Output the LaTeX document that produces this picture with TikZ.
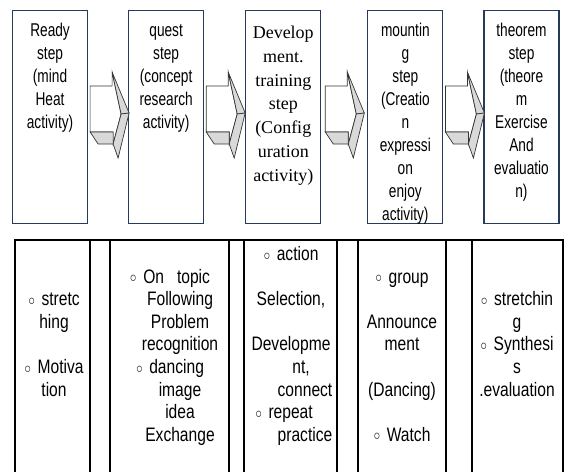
\documentclass[tikz,border=0pt]{standalone}
\usepackage{fontspec}
\newfontfamily\narrowsans{Liberation Sans}[FakeStretch=0.74]
\newfontfamily\cellsans{Liberation Sans}[FakeStretch=0.8]
\newfontfamily\plainserif{Liberation Serif}
\usetikzlibrary{positioning}
\definecolor{boxline}{RGB}{38,58,92}
\definecolor{arrowgray}{RGB}{217,217,217}
\newcommand{\stepfont}{\narrowsans\fontsize{18.5}{23}\selectfont}
\newcommand{\serifstep}{\plainserif\fontsize{18}{23.8}\selectfont}
\newcommand{\cellfont}{\cellsans\fontsize{19.5}{22.6}\selectfont}
\newcommand{\ringmark}{\raisebox{0.5pt}{\fontsize{14}{14}\selectfont ○}}

\begin{document}
\begin{tikzpicture}[x=1pt, y=-1pt,
  stepbox/.style={draw=boxline, line width=1.1pt, minimum width=75pt, text width=71pt, align=center, inner sep=2pt, text height=24pt, text depth=185pt, font=\stepfont},
  celltext/.style={text width=100pt, align=center, inner sep=0pt, anchor=base, font=\cellfont},
  tableline/.style={line width=1.1pt},
  blockarrow/.pic={
    \draw[fill=white] (0,0) -- (22,0) -- (22,-14) -- (31,28) -- (23,58) -- (23,46) -- (0,46) -- cycle;
    \draw[fill=arrowgray] (22,-14) -- (39,27) -- (31,28) -- cycle;
    \draw[fill=arrowgray] (31,28) -- (39,27) -- (28,72) -- (23,58) -- cycle;
    \draw[fill=arrowgray] (0,46) -- (8,58) -- (23,58) -- (23,46) -- cycle;
  }]
  \useasboundingbox (0,0) rectangle (565,472);
  % step boxes
  \node[stepbox, anchor=north west] (ready) at (12,10) {Ready\\step\\(mind\\Heat\\activity)};
  \node[stepbox, right=40pt of ready] (quest) {quest\\step\\(concept\\research\\activity)};
  \node[stepbox, right=41pt of quest, font=\serifstep, text height=26pt, text depth=183pt] (develop) {Develop\\ment.\\training\\step\\(Config\\uration\\activity)};
  \node[stepbox, right=46pt of develop] (mount) {mountin\\g\\step\\(Creatio\\n\\expressi\\on\\enjoy\\activity)};
  \node[stepbox, right=40pt of mount] (theorem) {theorem\\step\\(theore\\m\\Exercise\\And\\evaluatio\\n)};
  % block arrows between the steps
  \pic[draw=black!80, line width=0.7pt] at ([xshift=2pt, yshift=-76pt]ready.north east) {blockarrow};
  \pic[draw=black!80, line width=0.7pt] at ([xshift=2pt, yshift=-76pt]quest.north east) {blockarrow};
  \pic[draw=black!80, line width=0.7pt] at ([xshift=4pt, yshift=-76pt]develop.north east) {blockarrow};
  \pic[draw=black!80, line width=0.7pt] at ([xshift=2pt, yshift=-76pt]mount.north east) {blockarrow};
  % activity table
  \draw[tableline] (15,472) |- (563,240) -- (563,472)
    (90,240) -- (90,472) (110,240) -- (110,472)
    (229,240) -- (229,472) (244,240) -- (244,472)
    (337,240) -- (337,472) (358,240) -- (358,472)
    (446,240) -- (446,472) (472,240) -- (472,472);
  \node[celltext] (readycol) at (54,305.7) {\ringmark\ stretc\\hing\\[22.6pt]\ringmark\ Motiva\\tion};
  \node[celltext] (questcol) at (180,283.1) {\hspace*{-20pt}\ringmark\ On~~topic\\Following\\Problem\\recognition\\\hspace*{-20pt}\ringmark\ dancing\\image\\idea\\Exchange};
  \node[celltext] (developcol) at (291,260.5) {\ringmark\ action\\[22.6pt]Selection,\\[22.6pt]Developme\\\hspace*{20pt}nt,\\\hspace*{28pt}connect\\\hspace*{-14pt}\ringmark\ repeat\\\hspace*{28pt}practice};
  \node[celltext] (mountcol) at (402,283.1) {\ringmark\ group\\[22.6pt]Announce\\ment\\[22.6pt](Dancing)\\[22.6pt]\ringmark\ Watch};
  \node[celltext] (theoremcol) at (517,305.7) {\ringmark\ stretchin\\g\\\ringmark\ Synthesi\\s\\.evaluation};
\end{tikzpicture}
\end{document}
